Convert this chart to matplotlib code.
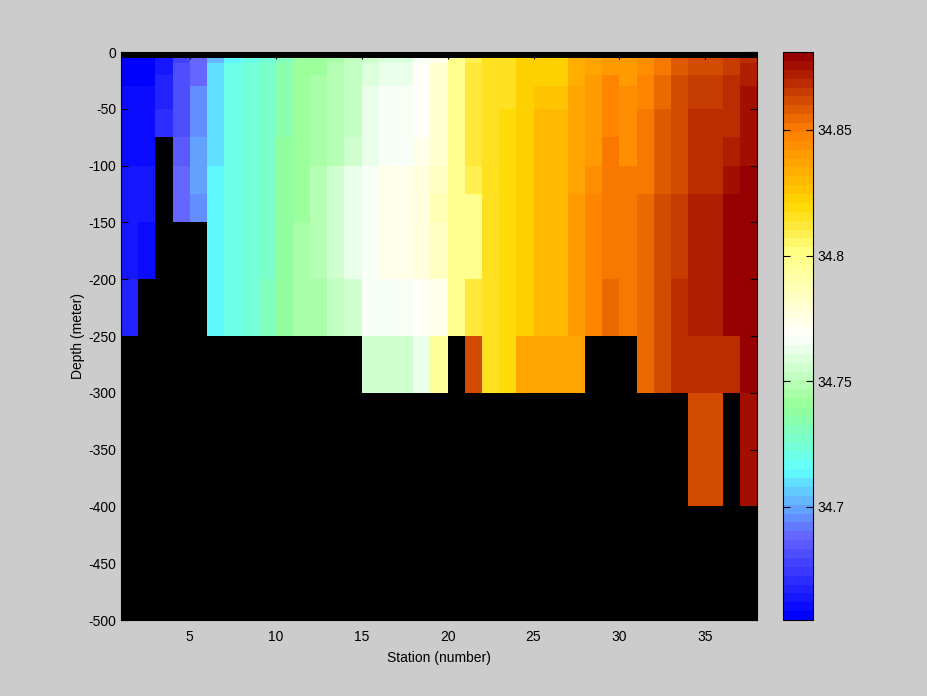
import numpy as np
import matplotlib
matplotlib.use("Agg")
import matplotlib.pyplot as plt
from matplotlib.colors import LinearSegmentedColormap, ListedColormap

n = np.nan

# station edges and depth levels (pcolor grid)
stations = np.arange(1, 39)
depths = [-5, -10, -20, -30, -50, -75, -100, -125, -150, -200, -250, -300, -400]

# salinity per cell, one row per depth layer (stations 1..37)
sal_r1 = [34.656, 34.656, 34.663, 34.679, 34.687, 34.703, 34.715, 34.722, 34.725, 34.730,
          34.740, 34.741, 34.745, 34.751, 34.756, 34.759, 34.759, 34.766, 34.775, 34.797,
          34.809, 34.814, 34.814, 34.822, 34.823, 34.823, 34.835, 34.838, 34.841, 34.840,
          34.843, 34.850, 34.858, 34.863, 34.863, 34.865, 34.870]
sal_r2 = [34.656, 34.656, 34.663, 34.683, 34.690, 34.708, 34.721, 34.723, 34.727, 34.734,
          34.741, 34.742, 34.748, 34.753, 34.759, 34.762, 34.762, 34.770, 34.779, 34.797,
          34.812, 34.814, 34.814, 34.822, 34.823, 34.823, 34.835, 34.838, 34.841, 34.841,
          34.843, 34.850, 34.858, 34.863, 34.863, 34.865, 34.873]
sal_r3 = [34.656, 34.656, 34.666, 34.683, 34.690, 34.708, 34.721, 34.725, 34.727, 34.734,
          34.741, 34.745, 34.748, 34.753, 34.759, 34.762, 34.762, 34.770, 34.779, 34.797,
          34.812, 34.814, 34.814, 34.822, 34.823, 34.823, 34.835, 34.840, 34.847, 34.841,
          34.847, 34.855, 34.863, 34.865, 34.865, 34.870, 34.873]
sal_r4 = [34.661, 34.661, 34.666, 34.683, 34.694, 34.708, 34.721, 34.725, 34.729, 34.734,
          34.741, 34.745, 34.748, 34.753, 34.763, 34.767, 34.767, 34.770, 34.779, 34.797,
          34.812, 34.814, 34.814, 34.822, 34.826, 34.826, 34.838, 34.840, 34.847, 34.845,
          34.847, 34.855, 34.863, 34.865, 34.865, 34.870, 34.877]
sal_r5 = [34.661, 34.661, 34.671, 34.683, 34.694, 34.711, 34.721, 34.725, 34.729, 34.734,
          34.741, 34.745, 34.748, 34.753, 34.763, 34.767, 34.767, 34.770, 34.779, 34.797,
          34.812, 34.816, 34.818, 34.822, 34.831, 34.831, 34.838, 34.840, 34.847, 34.845,
          34.850, 34.858, 34.863, 34.870, 34.870, 34.870, 34.877]
sal_r6 = [34.661, 34.661, n, 34.686, 34.698, 34.711, 34.721, 34.725, 34.729, 34.739,
          34.743, 34.745, 34.748, 34.757, 34.763, 34.767, 34.767, 34.772, 34.779, 34.797,
          34.812, 34.816, 34.818, 34.822, 34.831, 34.831, 34.838, 34.840, 34.850, 34.845,
          34.850, 34.858, 34.863, 34.870, 34.870, 34.873, 34.877]
sal_r7 = [34.663, 34.663, n, 34.689, 34.699, 34.714, 34.721, 34.725, 34.729, 34.739,
          34.743, 34.750, 34.754, 34.762, 34.766, 34.775, 34.775, 34.777, 34.783, 34.797,
          34.810, 34.816, 34.818, 34.822, 34.831, 34.831, 34.838, 34.843, 34.850, 34.850,
          34.850, 34.858, 34.863, 34.870, 34.870, 34.877, 34.881]
sal_r8 = [34.663, 34.663, n, 34.688, 34.696, 34.714, 34.721, 34.725, 34.729, 34.739,
          34.743, 34.748, 34.756, 34.762, 34.766, 34.775, 34.775, 34.778, 34.788, 34.797,
          34.797, 34.816, 34.818, 34.822, 34.831, 34.831, 34.841, 34.847, 34.850, 34.850,
          34.855, 34.861, 34.865, 34.873, 34.873, 34.881, 34.881]
sal_r9 = [34.663, 34.660, n, n, n, 34.714, 34.721, 34.725, 34.729, 34.739,
          34.745, 34.748, 34.756, 34.762, 34.766, 34.775, 34.775, 34.778, 34.783, 34.797,
          34.797, 34.816, 34.818, 34.822, 34.831, 34.831, 34.841, 34.847, 34.850, 34.850,
          34.855, 34.861, 34.865, 34.873, 34.873, 34.881, 34.881]
sal_r10 = [34.668, n, n, n, n, 34.714, 34.721, 34.725, 34.730, 34.739,
           34.745, 34.745, 34.751, 34.756, 34.767, 34.767, 34.767, 34.771, 34.775, 34.797,
           34.812, 34.816, 34.818, 34.822, 34.831, 34.831, 34.841, 34.847, 34.855, 34.850,
           34.855, 34.861, 34.870, 34.873, 34.873, 34.881, 34.881]
sal_r11 = [n, n, n, n, n, n, n, n, n, n,
           n, n, n, n, 34.755, 34.755, 34.755, 34.762, 34.796, n,
           34.861, 34.816, 34.818, 34.838, 34.838, 34.838, 34.838, n, n, n,
           34.855, 34.861, 34.870, 34.870, 34.870, 34.870, 34.881]
sal_r12 = [n, n, n, n, n, n, n, n, n, n,
           n, n, n, n, n, n, n, n, n, n,
           n, n, n, n, n, n, n, n, n, n,
           n, n, n, 34.861, 34.861, n, 34.877]

salinity = np.array([sal_r1, sal_r2, sal_r3, sal_r4, sal_r5, sal_r6, sal_r7,
                     sal_r8, sal_r9, sal_r10, sal_r11, sal_r12])

# blue - cyan - green - white - yellow - orange - dark red, 64 steps
anchors = [
    (0.0, (0, 0, 255)),
    (0.14, (100, 100, 255)),
    (0.26, (96, 255, 255)),
    (0.375, (150, 255, 150)),
    (0.5, (255, 255, 255)),
    (0.65, (255, 255, 130)),
    (0.735, (255, 215, 0)),
    (0.866, (255, 128, 0)),
    (1.0, (150, 0, 0)),
]
smooth = LinearSegmentedColormap.from_list(
    "sal", [(p, tuple(c / 255 for c in rgb)) for p, rgb in anchors])
cmap = ListedColormap(smooth(np.linspace(0, 1, 64)))

plt.rcParams["font.family"] = ["Liberation Sans", "DejaVu Sans"]
plt.rcParams["axes.unicode_minus"] = False

fig = plt.figure(figsize=(9.28, 6.96), dpi=100)
fig.patch.set_facecolor("#cccccc")

ax = fig.add_axes([121 / 928, 76 / 696, 636 / 928, 568 / 696])
ax.set_facecolor("black")
mesh = ax.pcolormesh(stations, depths, salinity, cmap=cmap,
                     vmin=34.655, vmax=34.881, shading="flat")
ax.set_xlim(1, 38)
ax.set_ylim(-500, 0)
ax.set_xticks([5, 10, 15, 20, 25, 30, 35])
ax.set_yticks(np.arange(-500, 1, 50))
ax.tick_params(direction="in", top=True, right=True, labelsize=10, length=5)
ax.tick_params(axis="x", pad=7)
ax.set_xlabel("Station (number)", fontsize=10, labelpad=5)
ax.set_ylabel("Depth (meter)", fontsize=10, labelpad=2)

cax = fig.add_axes([783 / 928, 76 / 696, 30 / 928, 568 / 696])
cb = fig.colorbar(mesh, cax=cax)
cb.set_ticks([34.7, 34.75, 34.8, 34.85])
cb.set_ticklabels(["34.7", "34.75", "34.8", "34.85"])
cax.tick_params(direction="in", left=True, right=True, labelsize=10, length=5)
cb.outline.set_edgecolor("black")

fig.savefig("out.png", dpi=100, facecolor=fig.get_facecolor())
